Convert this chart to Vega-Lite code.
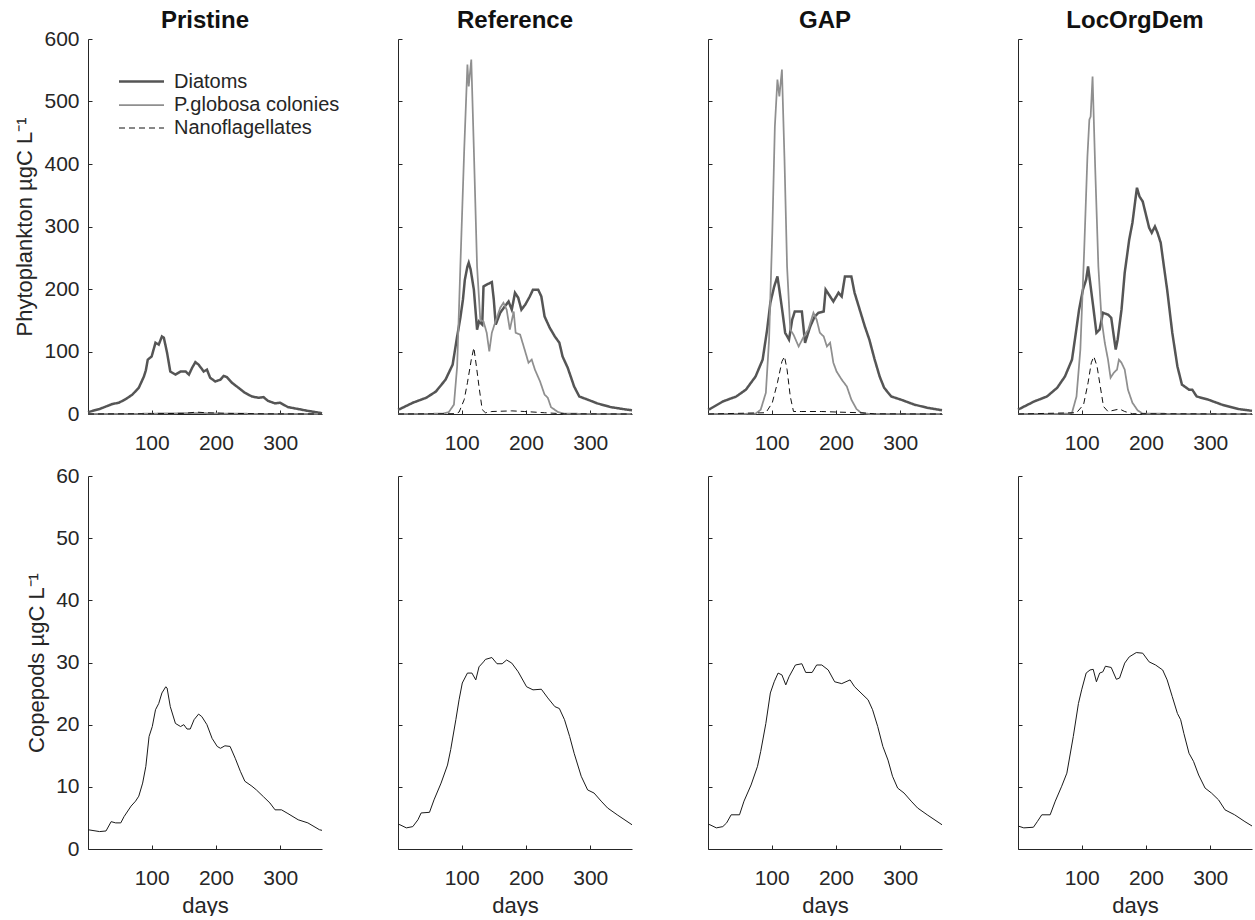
{
"$schema":"https://vega.github.io/schema/vega-lite/v6.json",
"padding":{"left":13,"top":8,"right":0,"bottom":0},
"datasets":{
"phyto_pristine":[
{"group":"Diatoms","day":1,"value":3},{"group":"Diatoms","day":19,"value":8},{"group":"Diatoms","day":39,"value":16},{"group":"Diatoms","day":49,"value":18},{"group":"Diatoms","day":60,"value":24},{"group":"Diatoms","day":70,"value":31},{"group":"Diatoms","day":80,"value":42},{"group":"Diatoms","day":88,"value":60},{"group":"Diatoms","day":91,"value":70},{"group":"Diatoms","day":94,"value":87},{"group":"Diatoms","day":100,"value":92},{"group":"Diatoms","day":106,"value":114},{"group":"Diatoms","day":111,"value":111},{"group":"Diatoms","day":116,"value":124},{"group":"Diatoms","day":119,"value":122},{"group":"Diatoms","day":124,"value":98},{"group":"Diatoms","day":129,"value":68},{"group":"Diatoms","day":137,"value":63},{"group":"Diatoms","day":145,"value":68},{"group":"Diatoms","day":153,"value":68},{"group":"Diatoms","day":158,"value":63},{"group":"Diatoms","day":163,"value":74},{"group":"Diatoms","day":168,"value":83},{"group":"Diatoms","day":173,"value":79},{"group":"Diatoms","day":181,"value":68},{"group":"Diatoms","day":186,"value":71},{"group":"Diatoms","day":191,"value":58},{"group":"Diatoms","day":199,"value":52},{"group":"Diatoms","day":207,"value":55},{"group":"Diatoms","day":212,"value":61},{"group":"Diatoms","day":217,"value":59},{"group":"Diatoms","day":225,"value":50},{"group":"Diatoms","day":235,"value":42},{"group":"Diatoms","day":245,"value":34},{"group":"Diatoms","day":256,"value":28},{"group":"Diatoms","day":266,"value":26},{"group":"Diatoms","day":274,"value":27},{"group":"Diatoms","day":281,"value":21},{"group":"Diatoms","day":292,"value":17},{"group":"Diatoms","day":300,"value":18},{"group":"Diatoms","day":312,"value":11},{"group":"Diatoms","day":328,"value":8},{"group":"Diatoms","day":343,"value":5},{"group":"Diatoms","day":361,"value":2},{"group":"Diatoms","day":365,"value":1},
{"group":"P.globosa colonies","day":1,"value":0},{"group":"P.globosa colonies","day":80,"value":0.3},{"group":"P.globosa colonies","day":120,"value":1},{"group":"P.globosa colonies","day":170,"value":1.5},{"group":"P.globosa colonies","day":220,"value":0.5},{"group":"P.globosa colonies","day":365,"value":0},
{"group":"Nanoflagellates","day":1,"value":0},{"group":"Nanoflagellates","day":100,"value":0.5},{"group":"Nanoflagellates","day":150,"value":1},{"group":"Nanoflagellates","day":170,"value":3},{"group":"Nanoflagellates","day":185,"value":2},{"group":"Nanoflagellates","day":220,"value":1},{"group":"Nanoflagellates","day":280,"value":0.3},{"group":"Nanoflagellates","day":365,"value":0}
],
"phyto_reference":[
{"group":"Diatoms","day":1,"value":7},{"group":"Diatoms","day":4,"value":8},{"group":"Diatoms","day":24,"value":18},{"group":"Diatoms","day":45,"value":26},{"group":"Diatoms","day":60,"value":36},{"group":"Diatoms","day":75,"value":55},{"group":"Diatoms","day":86,"value":79},{"group":"Diatoms","day":93,"value":124},{"group":"Diatoms","day":98,"value":154},{"group":"Diatoms","day":102,"value":183},{"group":"Diatoms","day":105,"value":215},{"group":"Diatoms","day":109,"value":236},{"group":"Diatoms","day":111,"value":242},{"group":"Diatoms","day":114,"value":231},{"group":"Diatoms","day":119,"value":199},{"group":"Diatoms","day":124,"value":135},{"group":"Diatoms","day":127,"value":148},{"group":"Diatoms","day":132,"value":143},{"group":"Diatoms","day":134,"value":204},{"group":"Diatoms","day":139,"value":207},{"group":"Diatoms","day":147,"value":211},{"group":"Diatoms","day":150,"value":183},{"group":"Diatoms","day":153,"value":143},{"group":"Diatoms","day":160,"value":162},{"group":"Diatoms","day":167,"value":172},{"group":"Diatoms","day":173,"value":180},{"group":"Diatoms","day":178,"value":167},{"group":"Diatoms","day":183,"value":194},{"group":"Diatoms","day":188,"value":186},{"group":"Diatoms","day":193,"value":167},{"group":"Diatoms","day":199,"value":175},{"group":"Diatoms","day":206,"value":188},{"group":"Diatoms","day":211,"value":199},{"group":"Diatoms","day":219,"value":199},{"group":"Diatoms","day":224,"value":188},{"group":"Diatoms","day":229,"value":156},{"group":"Diatoms","day":237,"value":138},{"group":"Diatoms","day":245,"value":124},{"group":"Diatoms","day":252,"value":114},{"group":"Diatoms","day":257,"value":92},{"group":"Diatoms","day":265,"value":74},{"group":"Diatoms","day":275,"value":44},{"group":"Diatoms","day":283,"value":28},{"group":"Diatoms","day":296,"value":23},{"group":"Diatoms","day":311,"value":17},{"group":"Diatoms","day":332,"value":11},{"group":"Diatoms","day":357,"value":7},{"group":"Diatoms","day":365,"value":6},
{"group":"P.globosa colonies","day":1,"value":0},{"group":"P.globosa colonies","day":70,"value":0.5},{"group":"P.globosa colonies","day":80,"value":3},{"group":"P.globosa colonies","day":88,"value":15},{"group":"P.globosa colonies","day":93,"value":76},{"group":"P.globosa colonies","day":98,"value":236},{"group":"P.globosa colonies","day":104,"value":423},{"group":"P.globosa colonies","day":109,"value":559},{"group":"P.globosa colonies","day":111,"value":524},{"group":"P.globosa colonies","day":115,"value":567},{"group":"P.globosa colonies","day":119,"value":423},{"group":"P.globosa colonies","day":124,"value":236},{"group":"P.globosa colonies","day":129,"value":151},{"group":"P.globosa colonies","day":134,"value":148},{"group":"P.globosa colonies","day":139,"value":130},{"group":"P.globosa colonies","day":143,"value":100},{"group":"P.globosa colonies","day":147,"value":130},{"group":"P.globosa colonies","day":152,"value":146},{"group":"P.globosa colonies","day":160,"value":170},{"group":"P.globosa colonies","day":165,"value":178},{"group":"P.globosa colonies","day":170,"value":167},{"group":"P.globosa colonies","day":175,"value":135},{"group":"P.globosa colonies","day":181,"value":164},{"group":"P.globosa colonies","day":184,"value":130},{"group":"P.globosa colonies","day":191,"value":127},{"group":"P.globosa colonies","day":198,"value":103},{"group":"P.globosa colonies","day":204,"value":82},{"group":"P.globosa colonies","day":209,"value":87},{"group":"P.globosa colonies","day":214,"value":71},{"group":"P.globosa colonies","day":222,"value":52},{"group":"P.globosa colonies","day":229,"value":31},{"group":"P.globosa colonies","day":234,"value":26},{"group":"P.globosa colonies","day":239,"value":11},{"group":"P.globosa colonies","day":250,"value":3},{"group":"P.globosa colonies","day":260,"value":0.5},{"group":"P.globosa colonies","day":365,"value":0},
{"group":"Nanoflagellates","day":1,"value":0},{"group":"Nanoflagellates","day":90,"value":0.5},{"group":"Nanoflagellates","day":96,"value":3},{"group":"Nanoflagellates","day":104,"value":23},{"group":"Nanoflagellates","day":109,"value":50},{"group":"Nanoflagellates","day":115,"value":87},{"group":"Nanoflagellates","day":119,"value":106},{"group":"Nanoflagellates","day":123,"value":76},{"group":"Nanoflagellates","day":127,"value":44},{"group":"Nanoflagellates","day":132,"value":7},{"group":"Nanoflagellates","day":137,"value":2},{"group":"Nanoflagellates","day":147,"value":4},{"group":"Nanoflagellates","day":178,"value":5},{"group":"Nanoflagellates","day":198,"value":4},{"group":"Nanoflagellates","day":229,"value":2},{"group":"Nanoflagellates","day":260,"value":0.3},{"group":"Nanoflagellates","day":365,"value":0}
],
"phyto_gap":[
{"group":"Diatoms","day":1,"value":7},{"group":"Diatoms","day":4,"value":8},{"group":"Diatoms","day":24,"value":20},{"group":"Diatoms","day":45,"value":28},{"group":"Diatoms","day":60,"value":39},{"group":"Diatoms","day":75,"value":60},{"group":"Diatoms","day":86,"value":87},{"group":"Diatoms","day":93,"value":135},{"group":"Diatoms","day":98,"value":178},{"group":"Diatoms","day":104,"value":204},{"group":"Diatoms","day":109,"value":220},{"group":"Diatoms","day":112,"value":199},{"group":"Diatoms","day":117,"value":162},{"group":"Diatoms","day":121,"value":130},{"group":"Diatoms","day":127,"value":119},{"group":"Diatoms","day":132,"value":151},{"group":"Diatoms","day":136,"value":164},{"group":"Diatoms","day":147,"value":164},{"group":"Diatoms","day":152,"value":114},{"group":"Diatoms","day":160,"value":140},{"group":"Diatoms","day":167,"value":156},{"group":"Diatoms","day":173,"value":162},{"group":"Diatoms","day":181,"value":164},{"group":"Diatoms","day":184,"value":199},{"group":"Diatoms","day":191,"value":188},{"group":"Diatoms","day":196,"value":180},{"group":"Diatoms","day":204,"value":194},{"group":"Diatoms","day":209,"value":188},{"group":"Diatoms","day":214,"value":220},{"group":"Diatoms","day":224,"value":220},{"group":"Diatoms","day":229,"value":194},{"group":"Diatoms","day":237,"value":167},{"group":"Diatoms","day":245,"value":140},{"group":"Diatoms","day":252,"value":119},{"group":"Diatoms","day":260,"value":88},{"group":"Diatoms","day":268,"value":60},{"group":"Diatoms","day":275,"value":42},{"group":"Diatoms","day":286,"value":28},{"group":"Diatoms","day":301,"value":23},{"group":"Diatoms","day":322,"value":15},{"group":"Diatoms","day":342,"value":10},{"group":"Diatoms","day":365,"value":6},
{"group":"P.globosa colonies","day":1,"value":0},{"group":"P.globosa colonies","day":75,"value":0.5},{"group":"P.globosa colonies","day":83,"value":7},{"group":"P.globosa colonies","day":91,"value":34},{"group":"P.globosa colonies","day":96,"value":119},{"group":"P.globosa colonies","day":101,"value":290},{"group":"P.globosa colonies","day":105,"value":460},{"group":"P.globosa colonies","day":109,"value":535},{"group":"P.globosa colonies","day":112,"value":508},{"group":"P.globosa colonies","day":116,"value":551},{"group":"P.globosa colonies","day":120,"value":407},{"group":"P.globosa colonies","day":124,"value":236},{"group":"P.globosa colonies","day":129,"value":135},{"group":"P.globosa colonies","day":134,"value":127},{"group":"P.globosa colonies","day":142,"value":108},{"group":"P.globosa colonies","day":150,"value":124},{"group":"P.globosa colonies","day":157,"value":135},{"group":"P.globosa colonies","day":165,"value":162},{"group":"P.globosa colonies","day":170,"value":151},{"group":"P.globosa colonies","day":175,"value":130},{"group":"P.globosa colonies","day":181,"value":124},{"group":"P.globosa colonies","day":186,"value":108},{"group":"P.globosa colonies","day":191,"value":114},{"group":"P.globosa colonies","day":196,"value":82},{"group":"P.globosa colonies","day":201,"value":68},{"group":"P.globosa colonies","day":209,"value":55},{"group":"P.globosa colonies","day":217,"value":44},{"group":"P.globosa colonies","day":224,"value":23},{"group":"P.globosa colonies","day":232,"value":8},{"group":"P.globosa colonies","day":239,"value":2},{"group":"P.globosa colonies","day":250,"value":0.3},{"group":"P.globosa colonies","day":365,"value":0},
{"group":"Nanoflagellates","day":1,"value":0},{"group":"Nanoflagellates","day":91,"value":2},{"group":"Nanoflagellates","day":101,"value":18},{"group":"Nanoflagellates","day":109,"value":50},{"group":"Nanoflagellates","day":116,"value":84},{"group":"Nanoflagellates","day":120,"value":92},{"group":"Nanoflagellates","day":124,"value":71},{"group":"Nanoflagellates","day":129,"value":28},{"group":"Nanoflagellates","day":134,"value":4},{"group":"Nanoflagellates","day":147,"value":4},{"group":"Nanoflagellates","day":178,"value":4},{"group":"Nanoflagellates","day":204,"value":3},{"group":"Nanoflagellates","day":239,"value":2},{"group":"Nanoflagellates","day":260,"value":0.3},{"group":"Nanoflagellates","day":365,"value":0}
],
"phyto_locorgdem":[
{"group":"Diatoms","day":1,"value":7},{"group":"Diatoms","day":3,"value":8},{"group":"Diatoms","day":26,"value":20},{"group":"Diatoms","day":46,"value":28},{"group":"Diatoms","day":62,"value":42},{"group":"Diatoms","day":74,"value":60},{"group":"Diatoms","day":85,"value":87},{"group":"Diatoms","day":91,"value":130},{"group":"Diatoms","day":96,"value":167},{"group":"Diatoms","day":102,"value":199},{"group":"Diatoms","day":107,"value":215},{"group":"Diatoms","day":110,"value":236},{"group":"Diatoms","day":114,"value":204},{"group":"Diatoms","day":118,"value":172},{"group":"Diatoms","day":123,"value":130},{"group":"Diatoms","day":128,"value":135},{"group":"Diatoms","day":133,"value":162},{"group":"Diatoms","day":141,"value":159},{"group":"Diatoms","day":146,"value":154},{"group":"Diatoms","day":153,"value":103},{"group":"Diatoms","day":156,"value":119},{"group":"Diatoms","day":162,"value":167},{"group":"Diatoms","day":167,"value":226},{"group":"Diatoms","day":174,"value":279},{"group":"Diatoms","day":179,"value":306},{"group":"Diatoms","day":186,"value":362},{"group":"Diatoms","day":190,"value":348},{"group":"Diatoms","day":195,"value":340},{"group":"Diatoms","day":200,"value":319},{"group":"Diatoms","day":205,"value":298},{"group":"Diatoms","day":209,"value":290},{"group":"Diatoms","day":214,"value":300},{"group":"Diatoms","day":218,"value":290},{"group":"Diatoms","day":223,"value":274},{"group":"Diatoms","day":228,"value":236},{"group":"Diatoms","day":233,"value":199},{"group":"Diatoms","day":241,"value":130},{"group":"Diatoms","day":249,"value":76},{"group":"Diatoms","day":256,"value":47},{"group":"Diatoms","day":267,"value":39},{"group":"Diatoms","day":272,"value":39},{"group":"Diatoms","day":279,"value":28},{"group":"Diatoms","day":297,"value":23},{"group":"Diatoms","day":318,"value":15},{"group":"Diatoms","day":344,"value":8},{"group":"Diatoms","day":365,"value":5},
{"group":"P.globosa colonies","day":1,"value":0},{"group":"P.globosa colonies","day":80,"value":0.5},{"group":"P.globosa colonies","day":85,"value":2},{"group":"P.globosa colonies","day":92,"value":28},{"group":"P.globosa colonies","day":98,"value":103},{"group":"P.globosa colonies","day":104,"value":263},{"group":"P.globosa colonies","day":109,"value":412},{"group":"P.globosa colonies","day":112,"value":471},{"group":"P.globosa colonies","day":114,"value":476},{"group":"P.globosa colonies","day":117,"value":540},{"group":"P.globosa colonies","day":121,"value":396},{"group":"P.globosa colonies","day":126,"value":236},{"group":"P.globosa colonies","day":131,"value":151},{"group":"P.globosa colonies","day":136,"value":114},{"group":"P.globosa colonies","day":141,"value":87},{"group":"P.globosa colonies","day":145,"value":58},{"group":"P.globosa colonies","day":150,"value":66},{"group":"P.globosa colonies","day":155,"value":71},{"group":"P.globosa colonies","day":158,"value":87},{"group":"P.globosa colonies","day":162,"value":82},{"group":"P.globosa colonies","day":167,"value":71},{"group":"P.globosa colonies","day":172,"value":39},{"group":"P.globosa colonies","day":179,"value":18},{"group":"P.globosa colonies","day":187,"value":6},{"group":"P.globosa colonies","day":195,"value":0.5},{"group":"P.globosa colonies","day":365,"value":0},
{"group":"Nanoflagellates","day":1,"value":0},{"group":"Nanoflagellates","day":92,"value":2},{"group":"Nanoflagellates","day":103,"value":15},{"group":"Nanoflagellates","day":110,"value":50},{"group":"Nanoflagellates","day":115,"value":82},{"group":"Nanoflagellates","day":119,"value":92},{"group":"Nanoflagellates","day":124,"value":76},{"group":"Nanoflagellates","day":129,"value":44},{"group":"Nanoflagellates","day":134,"value":12},{"group":"Nanoflagellates","day":141,"value":4},{"group":"Nanoflagellates","day":159,"value":8},{"group":"Nanoflagellates","day":167,"value":4},{"group":"Nanoflagellates","day":179,"value":0.5},{"group":"Nanoflagellates","day":365,"value":0}
],
"cop_pristine":[
{"day":1,"value":3.1},{"day":19,"value":2.8},{"day":29,"value":2.9},{"day":37,"value":4.4},{"day":44,"value":4.2},{"day":52,"value":4.2},{"day":57,"value":5.2},{"day":68,"value":6.9},{"day":75,"value":7.7},{"day":80,"value":8.5},{"day":86,"value":10.6},{"day":91,"value":13.3},{"day":96,"value":18.1},{"day":101,"value":19.7},{"day":106,"value":22.4},{"day":111,"value":23.4},{"day":116,"value":25.1},{"day":122,"value":26.1},{"day":124,"value":25.9},{"day":129,"value":22.9},{"day":137,"value":20.2},{"day":145,"value":19.7},{"day":150,"value":20.0},{"day":155,"value":19.3},{"day":160,"value":19.3},{"day":166,"value":20.8},{"day":173,"value":21.7},{"day":178,"value":21.3},{"day":186,"value":20.0},{"day":194,"value":17.8},{"day":202,"value":16.5},{"day":207,"value":16.2},{"day":214,"value":16.6},{"day":222,"value":16.5},{"day":230,"value":14.6},{"day":238,"value":12.5},{"day":245,"value":10.9},{"day":256,"value":10.1},{"day":263,"value":9.5},{"day":274,"value":8.4},{"day":284,"value":7.4},{"day":292,"value":6.3},{"day":302,"value":6.3},{"day":312,"value":5.7},{"day":328,"value":4.7},{"day":343,"value":4.2},{"day":361,"value":3.1},{"day":365,"value":3.0}
],
"cop_reference":[
{"day":1,"value":4.0},{"day":4,"value":3.9},{"day":14,"value":3.4},{"day":24,"value":3.6},{"day":32,"value":4.7},{"day":37,"value":5.8},{"day":50,"value":5.9},{"day":57,"value":7.9},{"day":68,"value":10.6},{"day":78,"value":13.5},{"day":83,"value":16.0},{"day":91,"value":20.8},{"day":96,"value":24.0},{"day":101,"value":26.7},{"day":109,"value":28.3},{"day":116,"value":28.3},{"day":122,"value":27.2},{"day":127,"value":29.3},{"day":134,"value":30.1},{"day":137,"value":30.5},{"day":147,"value":30.8},{"day":155,"value":29.8},{"day":163,"value":29.8},{"day":170,"value":30.4},{"day":178,"value":29.9},{"day":188,"value":28.5},{"day":201,"value":26.1},{"day":211,"value":25.6},{"day":224,"value":25.7},{"day":234,"value":24.3},{"day":245,"value":22.9},{"day":252,"value":22.6},{"day":260,"value":20.8},{"day":268,"value":18.1},{"day":275,"value":15.4},{"day":286,"value":11.7},{"day":296,"value":9.5},{"day":306,"value":9.0},{"day":317,"value":7.7},{"day":327,"value":6.6},{"day":342,"value":5.5},{"day":365,"value":3.9}
],
"cop_gap":[
{"day":1,"value":4.0},{"day":4,"value":3.9},{"day":14,"value":3.4},{"day":24,"value":3.6},{"day":30,"value":4.2},{"day":37,"value":5.5},{"day":50,"value":5.5},{"day":57,"value":7.7},{"day":68,"value":10.3},{"day":78,"value":13.3},{"day":83,"value":15.7},{"day":91,"value":20.2},{"day":98,"value":25.1},{"day":104,"value":26.9},{"day":110,"value":28.3},{"day":116,"value":28.0},{"day":122,"value":26.4},{"day":127,"value":27.7},{"day":137,"value":29.6},{"day":147,"value":29.8},{"day":153,"value":28.4},{"day":163,"value":28.4},{"day":170,"value":29.6},{"day":178,"value":29.6},{"day":188,"value":28.8},{"day":198,"value":26.9},{"day":209,"value":26.6},{"day":222,"value":27.2},{"day":229,"value":26.1},{"day":239,"value":25.1},{"day":250,"value":24.0},{"day":257,"value":22.4},{"day":265,"value":19.7},{"day":273,"value":16.5},{"day":281,"value":14.3},{"day":288,"value":11.7},{"day":296,"value":9.8},{"day":306,"value":9.0},{"day":317,"value":7.7},{"day":327,"value":6.6},{"day":342,"value":5.5},{"day":365,"value":3.9}
],
"cop_locorgdem":[
{"day":1,"value":3.7},{"day":10,"value":3.4},{"day":25,"value":3.5},{"day":31,"value":4.4},{"day":38,"value":5.5},{"day":51,"value":5.5},{"day":59,"value":7.7},{"day":69,"value":10.1},{"day":77,"value":12.2},{"day":87,"value":18.1},{"day":95,"value":23.4},{"day":100,"value":25.6},{"day":107,"value":28.3},{"day":113,"value":28.8},{"day":118,"value":28.9},{"day":123,"value":26.9},{"day":128,"value":28.3},{"day":133,"value":28.5},{"day":137,"value":29.4},{"day":146,"value":29.2},{"day":154,"value":27.3},{"day":159,"value":27.5},{"day":167,"value":29.9},{"day":174,"value":30.9},{"day":185,"value":31.6},{"day":195,"value":31.5},{"day":205,"value":30.1},{"day":215,"value":29.6},{"day":226,"value":28.8},{"day":233,"value":27.2},{"day":241,"value":24.5},{"day":249,"value":21.8},{"day":254,"value":20.8},{"day":259,"value":18.6},{"day":267,"value":15.4},{"day":274,"value":14.1},{"day":282,"value":11.9},{"day":292,"value":9.8},{"day":302,"value":9.0},{"day":313,"value":7.9},{"day":323,"value":6.3},{"day":338,"value":5.5},{"day":354,"value":4.4},{"day":365,"value":3.7}
]
},
"vconcat":[
{"hconcat":[
{"title":{"text":"Pristine","dy":11},"width":234,"height":375,"data":{"name":"phyto_pristine"},"mark":{"type":"line"},
"encoding":{
"x":{"field":"day","type":"quantitative","scale":{"domain":[1,365],"nice":false,"zero":false},"axis":{"values":[100,200,300],"title":null}},
"y":{"field":"value","type":"quantitative","scale":{"domain":[0,600],"nice":false},"axis":{"values":[0,100,200,300,400,500,600],"title":"Phytoplankton µgC L⁻¹"}},
"color":{"field":"group","type":"nominal","scale":{"domain":["Diatoms","P.globosa colonies","Nanoflagellates"],"range":["#555555","#8f8f8f","#111111"]},"legend":{"title":null,"orient":"none","legendX":43,"legendY":32,"symbolType":"M-2.5,0H2.5","symbolSize":324,"labelFontSize":20,"labelOffset":22,"labelLimit":400,"rowPadding":3,"labelColor":"#262626","labelFont":"Liberation Sans"}},
"strokeDash":{"field":"group","type":"nominal","scale":{"domain":["Diatoms","P.globosa colonies","Nanoflagellates"],"range":[[1,0],[1,0],[6,4]]}},
"strokeWidth":{"field":"group","type":"nominal","scale":{"domain":["Diatoms","P.globosa colonies","Nanoflagellates"],"range":[2.5,1,1.2]}}
}},
{"title":{"text":"Reference"},"width":234,"height":375,"data":{"name":"phyto_reference"},"mark":{"type":"line"},
"encoding":{
"x":{"field":"day","type":"quantitative","scale":{"domain":[1,365],"nice":false,"zero":false},"axis":{"values":[100,200,300],"title":null}},
"y":{"field":"value","type":"quantitative","scale":{"domain":[0,600],"nice":false},"axis":{"values":[0,100,200,300,400,500,600],"title":null,"labels":false}},
"color":{"field":"group","type":"nominal","scale":{"domain":["Diatoms","P.globosa colonies","Nanoflagellates"],"range":["#555555","#8f8f8f","#111111"]},"legend":null},
"strokeDash":{"field":"group","type":"nominal","scale":{"domain":["Diatoms","P.globosa colonies","Nanoflagellates"],"range":[[1,0],[1,0],[6,4]]},"legend":null},
"strokeWidth":{"field":"group","type":"nominal","scale":{"domain":["Diatoms","P.globosa colonies","Nanoflagellates"],"range":[2.5,1,1.2]},"legend":null}
}},
{"title":{"text":"GAP"},"width":234,"height":375,"data":{"name":"phyto_gap"},"mark":{"type":"line"},
"encoding":{
"x":{"field":"day","type":"quantitative","scale":{"domain":[1,365],"nice":false,"zero":false},"axis":{"values":[100,200,300],"title":null}},
"y":{"field":"value","type":"quantitative","scale":{"domain":[0,600],"nice":false},"axis":{"values":[0,100,200,300,400,500,600],"title":null,"labels":false}},
"color":{"field":"group","type":"nominal","scale":{"domain":["Diatoms","P.globosa colonies","Nanoflagellates"],"range":["#555555","#8f8f8f","#111111"]},"legend":null},
"strokeDash":{"field":"group","type":"nominal","scale":{"domain":["Diatoms","P.globosa colonies","Nanoflagellates"],"range":[[1,0],[1,0],[6,4]]},"legend":null},
"strokeWidth":{"field":"group","type":"nominal","scale":{"domain":["Diatoms","P.globosa colonies","Nanoflagellates"],"range":[2.5,1,1.2]},"legend":null}
}},
{"title":{"text":"LocOrgDem"},"width":234,"height":375,"data":{"name":"phyto_locorgdem"},"mark":{"type":"line"},
"encoding":{
"x":{"field":"day","type":"quantitative","scale":{"domain":[1,365],"nice":false,"zero":false},"axis":{"values":[100,200,300],"title":null}},
"y":{"field":"value","type":"quantitative","scale":{"domain":[0,600],"nice":false},"axis":{"values":[0,100,200,300,400,500,600],"title":null,"labels":false}},
"color":{"field":"group","type":"nominal","scale":{"domain":["Diatoms","P.globosa colonies","Nanoflagellates"],"range":["#555555","#8f8f8f","#111111"]},"legend":null},
"strokeDash":{"field":"group","type":"nominal","scale":{"domain":["Diatoms","P.globosa colonies","Nanoflagellates"],"range":[[1,0],[1,0],[6,4]]},"legend":null},
"strokeWidth":{"field":"group","type":"nominal","scale":{"domain":["Diatoms","P.globosa colonies","Nanoflagellates"],"range":[2.5,1,1.2]},"legend":null}
}}
],
"spacing":76,
"bounds":"flush",
"resolve":{"scale":{"x":"independent","y":"independent","color":"independent","strokeDash":"independent","strokeWidth":"independent"},"legend":{"color":"independent","strokeDash":"independent","strokeWidth":"independent"}}
},
{"hconcat":[
{"width":234,"height":373,"data":{"name":"cop_pristine"},"mark":{"type":"line","color":"#1a1a1a","strokeWidth":1},
"encoding":{
"x":{"field":"day","type":"quantitative","scale":{"domain":[1,365],"nice":false,"zero":false},"axis":{"values":[100,200,300],"title":"days"}},
"y":{"field":"value","type":"quantitative","scale":{"domain":[0,60],"nice":false},"axis":{"values":[0,10,20,30,40,50,60],"title":"Copepods µgC L⁻¹"}}
}},
{"width":234,"height":373,"data":{"name":"cop_reference"},"mark":{"type":"line","color":"#1a1a1a","strokeWidth":1},
"encoding":{
"x":{"field":"day","type":"quantitative","scale":{"domain":[1,365],"nice":false,"zero":false},"axis":{"values":[100,200,300],"title":"days"}},
"y":{"field":"value","type":"quantitative","scale":{"domain":[0,60],"nice":false},"axis":{"values":[0,10,20,30,40,50,60],"title":null,"labels":false}}
}},
{"width":234,"height":373,"data":{"name":"cop_gap"},"mark":{"type":"line","color":"#1a1a1a","strokeWidth":1},
"encoding":{
"x":{"field":"day","type":"quantitative","scale":{"domain":[1,365],"nice":false,"zero":false},"axis":{"values":[100,200,300],"title":"days"}},
"y":{"field":"value","type":"quantitative","scale":{"domain":[0,60],"nice":false},"axis":{"values":[0,10,20,30,40,50,60],"title":null,"labels":false}}
}},
{"width":234,"height":373,"data":{"name":"cop_locorgdem"},"mark":{"type":"line","color":"#1a1a1a","strokeWidth":1},
"encoding":{
"x":{"field":"day","type":"quantitative","scale":{"domain":[1,365],"nice":false,"zero":false},"axis":{"values":[100,200,300],"title":"days"}},
"y":{"field":"value","type":"quantitative","scale":{"domain":[0,60],"nice":false},"axis":{"values":[0,10,20,30,40,50,60],"title":null,"labels":false}}
}}
],
"spacing":76,
"bounds":"flush",
"resolve":{"scale":{"x":"independent","y":"independent"}}
}
],
"spacing":12,
"resolve":{"scale":{"x":"independent","y":"independent","color":"independent","strokeDash":"independent","strokeWidth":"independent"},"legend":{"color":"independent","strokeDash":"independent","strokeWidth":"independent"}},
"config":{
"font":"Liberation Sans",
"view":{"stroke":null},
"axis":{"grid":false,"domainColor":"#262626","tickColor":"#262626","tickSize":-4,"domainWidth":1,"tickWidth":1,"labelFontSize":21,"labelColor":"#262626","labelFont":"Liberation Sans","titleFont":"Liberation Sans","titleFontSize":22,"titleFontWeight":"normal","titleColor":"#262626"},
"axisX":{"labelPadding":22,"titlePadding":7},
"axisY":{"labelPadding":13,"titlePadding":7},
"title":{"fontSize":24,"fontWeight":"bold","color":"#111111","font":"Liberation Sans","anchor":"middle","frame":"group","offset":6}
}
}
